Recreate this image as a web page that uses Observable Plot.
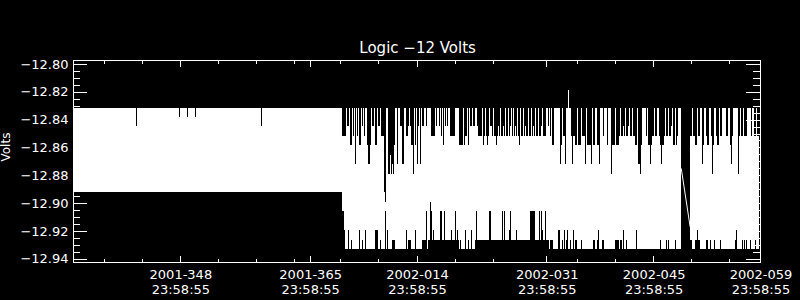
<!DOCTYPE html>
<html><head><meta charset="utf-8">
<script src="https://cdn.jsdelivr.net/npm/d3@7"></script>
<script src="https://cdn.jsdelivr.net/npm/@observablehq/plot@0.6"></script>
<style>html,body{margin:0;padding:0;background:#000;}</style>
</head><body><div id="chart"></div>
<script>
// ---- text ----
const title = "Logic \u221212 Volts";
const yLabel = "Volts";

// ---- time axis ----
const tickTime = "23:58:55";
const xStart = "2001-334", xEnd = "2002-059";
const xMajorTicks = ["2001-348", "2001-365", "2002-014", "2002-031", "2002-045", "2002-059"];
const xMinorTicks = ["2001-338", "2001-343", "2001-353", "2001-358", "2001-363", "2002-004", "2002-009",
  "2002-019", "2002-024", "2002-035", "2002-040", "2002-050", "2002-055"];

// ---- volts axis ----
const yDomain = [-12.94237, -12.79712];
const yMajorTicks = [-12.80, -12.82, -12.84, -12.86, -12.88, -12.90, -12.92, -12.94];
const yMinorTicks = [-12.805, -12.81, -12.815, -12.825, -12.83, -12.835, -12.845, -12.85, -12.855,
  -12.865, -12.87, -12.875, -12.885, -12.89, -12.895, -12.905, -12.91, -12.915, -12.925, -12.93, -12.935];

// ---- quantised telemetry levels (volts), index = level ----
const levels = [-12.8313, -12.8381, -12.8449, -12.8516, -12.8584, -12.8652, -12.8720, -12.8788,
  -12.8855, -12.8923, -12.8991, -12.9059, -12.9127, -12.9194, -12.9262, -12.9330];

// min/max envelope per time bin (bin width in hours), starting at xStart
const binHours = 3.1441;
// first part (run-length: [number of bins, level])
const partAHi = [[63,0],[1,2],[42,0],[1,1],[7,0],[1,1],[7,0],[1,1],[65,0],[1,2],[80,0]];
const partALo = [[269,9]];
// second part, one level per bin (null = no data)
const partBHi = [
3,3,3,3,0,2,2,0,4,4, 0,3,0,6,0,3,0,4,4,0, 2,0,3,0,0,4,6,6,4,0, 2,2,0,4,4,0,2,2,0,3,
3,3,9,10,0,0,7,7,5,7, 6,7,4,0,0,6,0,0,2,2, 6,6,0,0,3,3,2,0,2,4, 4,7,0,4,0,6,2,0,6,0,
2,2,0,0,2,0,0,0,0,3, 3,3,3,0,2,0,0,2,0,3, 0,4,0,2,0,2,0,0,3,3, 3,3,3,0,0,0,0,4,4,4,
4,0,4,3,3,0,4,0,2,2, 0,2,2,0,0,2,3,3,3,3, 0,4,3,0,3,4,3,0,2,2, 3,0,3,3,4,3,2,3,0,3,
3,2,3,0,3,3,0,3,2,0, 3,0,3,2,3,0,3,4,0,3, 3,0,3,2,3,3,0,3,3,0, 3,2,3,0,3,3,0,3,3,2,
0,3,3,3,0,0,2,0,3,0, 4,4,0,0,0,0,0,0,6,4, 0,3,3,6,0,0,0,0,0,3, 6,3,3,4,4,0,4,4,4,0,
3,3,3,6,0,4,4,4,4,6, 0,4,4,0,0,4,4,6,0,0, 0,3,0,0,0,4,0,0,0,7, 4,4,4,0,4,4,4,3,0,3,
3,2,3,0,3,3,2,0,3,3, 0,3,3,4,4,0,6,6,7,4, 0,0,0,0,3,0,4,4,6,4, 3,3,0,3,3,0,0,3,4,6,
4,4,3,0,3,3,0,3,3,2, 0,4,4,0,4,3,0,0,0,null, null,null,null,null,null,null,null,null,3,3,
0,3,3,4,4,0,3,3,0,0, 6,4,0,0,3,4,4,0,0,3, 7,4,0,0,3,4,4,0,3,3, 0,0,0,0,3,3,0,0,4,6,
3,0,0,0,0,0,7,3,0,3, 3,0,3,3,3,0,0,0,0,3, 0,0,3,3,0,3,3];
const partBLo = [
11,11,13,15,15,15,13,15,15,14, 15,15,15,15,15,15,15,13,15,15, 14,15,15,13,15,15,15,15,15,15, 15,15,15,13,13,13,15,15,14,15,
15,15,15,11,15,13,15,15,15,15, 14,14,14,15,15,15,15,15,15,15, 15,15,15,15,13,15,14,14,14,15, 15,15,15,13,15,15,15,15,15,15,
14,14,14,14,11,15,14,14,10,11, 14,13,14,14,14,14,14,14,11,11, 14,14,11,14,14,14,14,14,14,13, 14,14,14,11,14,13,14,15,14,15,
15,15,15,13,15,15,14,15,15,13, 15,15,15,14,11,14,14,14,14,14, 14,14,14,14,14,14,14,11,11,14, 14,14,14,14,14,14,14,14,14,14,
11,14,11,14,14,14,14,13,11,14, 14,14,14,14,13,14,14,14,14,14, 14,14,14,14,14,14,14,14,11,11, 11,11,11,14,14,14,14,11,14,11,
13,14,14,11,14,14,14,15,14,14, 14,15,15,15,15,15,13,13,15,15, 14,15,13,15,14,13,15,15,14,15, 15,13,15,14,14,15,15,15,15,14,
15,15,15,15,15,15,15,15,15,15, 15,14,14,15,15,14,13,15,15,15, 14,14,15,15,15,15,15,15,15,15, 15,15,15,14,14,14,14,15,14,14,
15,13,15,15,14,15,15,15,15,15, 15,15,15,15,13,15,15,15,15,15, 15,15,15,15,15,15,15,15,15,15, 15,15,15,15,15,15,15,15,14,15,
15,15,15,15,14,15,14,15,15,15, 15,15,15,14,15,15,15,15,15,null, null,null,null,null,null,null,null,null,14,14,
15,15,15,14,14,13,14,14,15,15, 15,15,15,15,14,14,15,15,14,15, 15,15,14,15,15,15,15,15,14,15, 15,15,15,15,15,15,15,15,15,15,
15,15,15,14,13,15,15,15,15,15, 14,15,14,15,14,15,15,15,14,15, 15,15,15,14,15,15,15];
// isolated excursion above the upper level
const spikes = [{start: "2002-02-03T20:17Z", end: "2002-02-03T23:26Z", volts: -12.8185}];
// straight segment across the data gap
const gapLine = [{time: "2002-02-18T14:58Z", volts: -12.875}, {time: "2002-02-19T18:38Z", volts: -12.9165}];

// ---- build ----
const parseDoy = d3.utcParse("%Y-%j %H:%M:%S");
const doy = s => parseDoy(s + " " + tickTime);
const fmtDoy = d3.utcFormat("%Y-%j"), fmtTime = d3.utcFormat("%H:%M:%S");
const t0 = doy(xStart), t1 = doy(xEnd);
const expand = runs => runs.flatMap(([n, k]) => Array(n).fill(k));
const hiK = expand(partAHi).concat(partBHi);
const loK = expand(partALo).concat(partBLo);
const binMs = binHours * 3600e3;
const bins = [];
for (let i = 0; i < hiK.length; i++) {
  if (hiK[i] == null || loK[i] == null) continue;
  const last = bins[bins.length - 1];
  if (last && last.i1 === i && last.hk === hiK[i] && last.lk === loK[i]) { last.i1 = i + 1; continue; }
  bins.push({i0: i, i1: i + 1, hk: hiK[i], lk: loK[i]});
}
const rects = bins.map(b => ({
  start: new Date(+t0 + b.i0 * binMs), end: new Date(+t0 + b.i1 * binMs),
  hi: levels[b.hk], lo: levels[b.lk]
}));
const spikeRows = spikes.map(s => ({start: new Date(s.start), end: new Date(s.end), hi: s.volts, lo: levels[0]}));
const gapRows = gapLine.map(d => ({time: new Date(d.time), volts: d.volts}));
const xMaj = xMajorTicks.map(doy), xMin = xMinorTicks.map(doy);

const W = 800, H = 300, mL = 73, mR = 40, mT = 60, mB = 38;
const iw = W - mL - mR, ih = H - mT - mB;
const crisp = {stroke: "white", shapeRendering: "crispEdges"};

const chart = Plot.plot({
  width: W, height: H, marginLeft: mL, marginRight: mR, marginTop: mT, marginBottom: mB,
  style: {background: "black", color: "white", fontFamily: "DejaVu Sans, sans-serif", fontSize: "13px"},
  x: {type: "utc", domain: [t0, t1], axis: null},
  y: {domain: yDomain, axis: null},
  marks: [
    Plot.ruleY(yMajorTicks, {...crisp, insetRight: iw - 14}),
    Plot.ruleY(yMinorTicks, {...crisp, insetRight: iw - 7}),
    Plot.ruleY(yMajorTicks, {...crisp, insetLeft: iw - 14}),
    Plot.ruleY(yMinorTicks, {...crisp, insetLeft: iw - 7}),
    Plot.ruleX(xMaj, {...crisp, insetTop: ih - 6.5}),
    Plot.ruleX(xMin, {...crisp, insetTop: ih - 3.5}),
    Plot.ruleX(xMaj, {...crisp, insetBottom: ih - 6.5}),
    Plot.ruleX(xMin, {...crisp, insetBottom: ih - 3.5}),
    Plot.rect(rects, {x1: "start", x2: "end", y1: "lo", y2: "hi", fill: "white", shapeRendering: "crispEdges"}),
    Plot.rect(spikeRows, {x1: "start", x2: "end", y1: "lo", y2: "hi", fill: "white", shapeRendering: "crispEdges"}),
    Plot.line(gapRows, {x: "time", y: "volts", stroke: "white", strokeWidth: 1}),
    Plot.frame({...crisp}),
    Plot.text(yMajorTicks, {y: d => d, frameAnchor: "left", textAnchor: "end", dx: -5, text: d => d3.format(".2f")(d), fill: "white", ariaLabel: "ylabels"}),
    Plot.text(xMaj, {x: d => d, frameAnchor: "bottom", lineAnchor: "top", dy: 7, lineHeight: 1.08, dx: 0.5,
      text: d => fmtDoy(d) + "\n" + fmtTime(d), fill: "white", ariaLabel: "xlabels"}),
    Plot.text([title], {frameAnchor: "top", lineAnchor: "top", dy: -18.3, dx: 0.6, fontSize: 15, fill: "white", ariaLabel: "title"}),
    Plot.text([yLabel], {frameAnchor: "left", rotate: -90, lineAnchor: "top", dx: -72.5, fontSize: 12, fill: "white"})
  ]
});
d3.select(chart).selectAll('g[aria-label="title"] text').attr("letter-spacing", "1.2px");
d3.select(chart).selectAll('g[aria-label="xlabels"] text').attr("letter-spacing", "1px");
document.getElementById("chart").appendChild(chart);
</script>
</body></html>
